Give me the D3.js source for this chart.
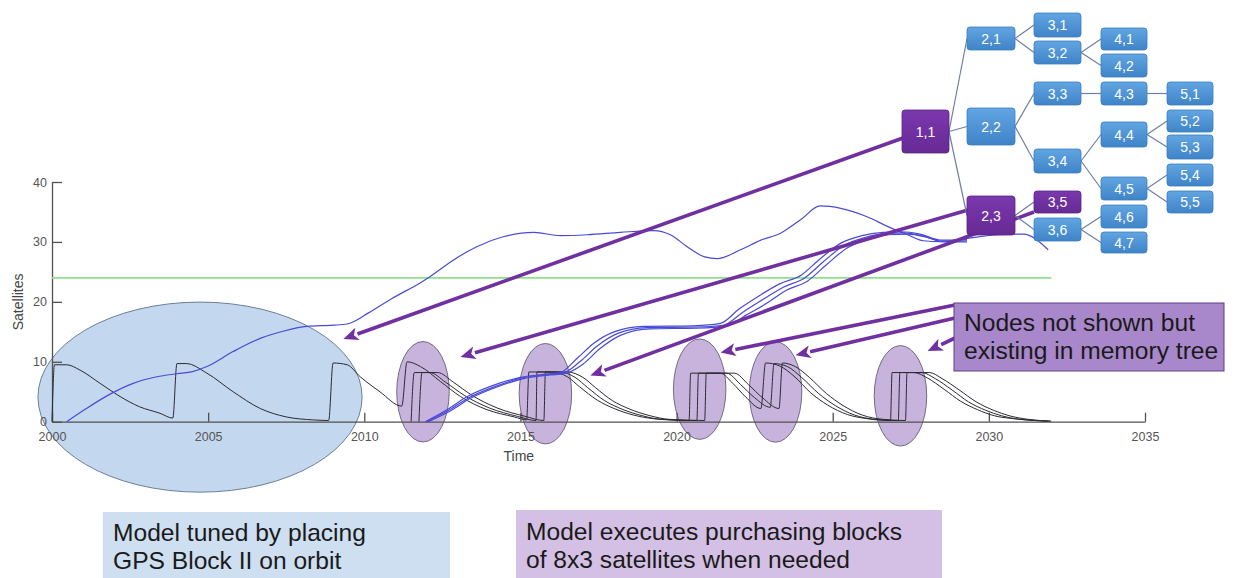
<!DOCTYPE html>
<html><head><meta charset="utf-8">
<script src="https://cdn.jsdelivr.net/npm/d3@7"></script>
<style>
body{margin:0;background:#fff;}
svg{display:block;font-family:"Liberation Sans",Arial,sans-serif;}
</style></head><body>
<svg id="c" width="1238" height="578"></svg>
<script>
// ---------------- data ----------------
const xTicks = [2000, 2005, 2010, 2015, 2020, 2025, 2030, 2035];
const yTicks = [0, 10, 20, 30, 40];
const xTitle = "Time";
const yTitle = "Satellites";
const requirementValue = 24;
const requirementYears = [2000, 2032];

// black: satellites remaining from each purchased block (three branches)
const blackA = [[2000.0,0],[2000.08,9.5],[2000.47,9.5],[2000.9,8.6],[2001.54,6.4],[2002.18,4.2],[2002.8,2.5],[2003.46,1.4],[2003.87,0.6],
 [2004.0,9.7],[2004.3,9.7],[2004.96,8.1],[2005.8,5.0],[2006.67,2.2],[2007.5,0.8],[2008.37,0.3],[2008.86,0.2],
 [2009.0,9.8],[2009.45,9.5],[2009.87,7.5],[2010.5,5.0],[2011.2,2.6],
 [2011.37,10.0],[2011.8,9.2],[2012.44,6.7],[2013.08,4.2],[2013.93,2.0],[2014.8,0.8],[2015.2,0.3],
 [2015.27,8.3],[2016.0,8.3],[2016.5,7.5],[2016.9,5.8],[2017.46,3.6],[2018.0,2.2],[2018.63,1.1],[2019.27,0.5],[2020.4,0.2],
 [2020.45,8.1],[2021.4,8.1],[2021.8,6.4],[2022.2,4.2],[2022.7,2.2],
 [2022.85,9.8],[2023.3,9.3],[2023.76,7.6],[2024.3,4.8],[2024.83,2.8],[2025.47,1.2],[2026.1,0.5],[2026.85,0.2],
 [2026.9,8.2],[2027.6,8.2],[2028.03,7.3],[2028.57,5.4],[2029.1,3.4],[2029.64,2.0],[2030.17,1.0],[2030.8,0.5],[2031.88,0.1]];
const blackB = [[2011.5,0],[2011.6,8.2],[2012.1,8.2],[2012.6,6.6],[2013.2,4.4],[2014.0,2.3],[2014.9,0.9],[2015.5,0.2],
 [2015.53,8.3],[2016.25,8.3],[2016.75,7.4],[2017.15,5.7],[2017.7,3.5],[2018.25,2.1],[2018.9,1.0],[2019.5,0.4],[2020.65,0.2],
 [2020.7,8.1],[2021.6,8.1],[2022.05,6.2],[2022.5,4.0],[2023.0,2.4],
 [2023.12,9.7],[2023.55,9.2],[2024.0,7.4],[2024.55,4.7],[2025.08,2.7],[2025.7,1.1],[2026.35,0.4],[2027.1,0.2],
 [2027.15,8.2],[2027.85,8.2],[2028.28,7.2],[2028.82,5.3],[2029.35,3.3],[2029.9,1.9],[2030.4,1.0],[2031.0,0.4],[2031.95,0.1]];
const blackC = [[2011.75,0],[2011.85,8.2],[2012.35,8.2],[2012.85,6.6],[2013.45,4.4],[2014.25,2.3],[2015.15,0.9],[2015.75,0.2],
 [2015.8,8.3],[2016.5,8.3],[2017.0,7.4],[2017.4,5.7],[2017.95,3.5],[2018.5,2.1],[2019.15,1.0],[2019.75,0.4],[2020.9,0.2],
 [2020.95,8.1],[2021.85,8.1],[2022.3,6.2],[2022.75,4.0],[2023.28,2.2],
 [2023.39,9.8],[2023.8,9.2],[2024.25,7.4],[2024.8,4.7],[2025.33,2.7],[2025.95,1.1],[2026.6,0.4],[2027.33,0.2],
 [2027.38,8.2],[2028.1,8.2],[2028.5,7.2],[2029.05,5.3],[2029.6,3.3],[2030.15,1.9],[2030.65,1.0],[2031.25,0.4],[2032.0,0.1]];

// blue: total constellation size
const blueMain = [[2000.47,0],[2001.1,2.2],[2001.86,4.6],[2002.6,6.4],[2003.36,7.5],[2004.0,8.0],[2004.5,8.35],[2004.96,9.2],
 [2005.8,11.7],[2006.67,13.9],[2007.4,15.1],[2008.16,15.9],[2009.0,16.1],[2009.45,16.3],[2010.15,18.2],[2010.9,20.6],
 [2011.8,23.2],[2012.1,24.2],[2012.86,27.0],[2013.6,29.2],[2014.47,30.9],[2015.43,31.6],[2016.28,31.05],[2017.14,31.2],
 [2018.2,31.6],[2019.27,31.9],[2019.8,31.2],[2020.34,29.2],[2020.9,27.5],[2021.3,27.2],[2022.05,28.7],[2022.7,30.3],
 [2023.33,31.45],[2023.97,33.7],[2024.6,36.0],[2025.26,35.6],[2026.1,34.2],[2026.75,32.6],[2027.4,31.2],[2027.9,30.2],
 [2028.46,30.05],[2029.3,30.6],[2030.3,31.2],[2031.1,31.3],[2031.9,28.7]];
const blueS1 = [[2011.95,0],[2012.65,2.0],[2013.3,4.2],[2014.15,6.1],[2015.0,7.4],[2015.85,7.96],[2016.28,8.2],[2016.8,10.5],
 [2017.35,13.1],[2018.0,15.0],[2018.95,15.9],[2020.55,16.0],[2021.4,16.4],[2022.0,18.8],[2022.7,21.2],[2023.3,23.0],[2024.0,24.5],
 [2024.6,27.2],[2025.26,29.8],[2025.9,31.0],[2026.6,31.6],[2027.2,31.7],[2027.8,31.3],[2028.46,30.3],[2029.3,30.4]];
const blueS2 = [[2012.0,0],[2012.7,1.9],[2013.35,4.0],[2014.2,5.9],[2015.05,7.3],[2015.9,7.9],[2016.35,8.1],[2016.9,10.0],
 [2017.45,12.6],[2018.1,14.7],[2019.05,15.7],[2020.6,15.8],[2021.5,16.1],[2022.1,18.2],[2022.8,20.5],[2023.4,22.4],[2024.1,24.0],
 [2024.7,26.7],[2025.36,29.4],[2026.0,30.7],[2026.7,31.4],[2027.3,31.5],[2027.9,31.0],[2028.5,30.1],[2029.3,30.2]];
const blueS3 = [[2012.05,0],[2012.75,1.8],[2013.4,3.9],[2014.25,5.8],[2015.1,7.2],[2015.95,7.8],[2016.4,8.0],[2017.0,9.6],
 [2017.55,12.2],[2018.2,14.4],[2019.15,15.5],[2020.65,15.6],[2021.6,15.9],[2022.2,17.7],[2022.9,19.8],[2023.5,21.9],[2024.2,23.5],
 [2024.8,26.2],[2025.46,29.0],[2026.1,30.4],[2026.8,31.2],[2027.4,31.3],[2028.0,30.8],[2028.55,30.0],[2029.3,30.0]];

// annotation anchors (data units)
const tunedPeriod = {year: 2004.74, value: 4.1};
const purchaseYears = [2011.88, 2015.8, 2020.74, 2023.17, 2027.17];
const purchaseValues = [5.0, 4.67, 5.43, 4.96, 4.32];

// decision tree
const nodeLabels = ["1,1","2,1","2,2","2,3","3,1","3,2","3,3","3,4","3,5","3,6","4,1","4,2","4,3","4,4","4,5","4,6","4,7","5,1","5,2","5,3","5,4","5,5"];
const treeEdges = [["1,1","2,1"],["1,1","2,2"],["1,1","2,3"],["2,1","3,1"],["2,1","3,2"],["3,2","4,1"],["3,2","4,2"],
 ["2,2","3,3"],["2,2","3,4"],["3,3","4,3"],["4,3","5,1"],["3,4","4,4"],["3,4","4,5"],["4,4","5,2"],["4,4","5,3"],
 ["4,5","5,4"],["4,5","5,5"],["2,3","3,5"],["2,3","3,6"],["3,6","4,6"],["3,6","4,7"]];
const selectedNodes = ["1,1","2,3","3,5"];
// arrows: node -> point on the chart (data units)
const nodeArrows = [{from:"1,1", year:2009.33, value:13.8},{from:"2,3", year:2013.08, value:10.8},{from:"3,5", year:2017.24, value:7.7}];
const memoryArrowTargets = [{year:2021.41, value:11.55},{year:2023.81, value:11.1},{year:2028.04, value:11.8}];

const noteTuned = ["Model tuned by placing","GPS Block II on orbit"];
const notePurchase = ["Model executes purchasing blocks","of 8x3 satellites when needed"];
const noteMemory = ["Nodes not shown but","existing in memory tree"];

// ---------------- layout / style ----------------
const nodeBox = {
 "1,1":[902,110,47,43],"2,1":[967,27,48,23],"2,2":[967,108,48,37],"2,3":[967,196,48,39],
 "3,1":[1034,13,47,24],"3,2":[1034,41,47,23],"3,3":[1034,82,47,23],"3,4":[1034,149,47,24],"3,5":[1034,191,47,22],"3,6":[1034,218,47,23],
 "4,1":[1101,28,46,22],"4,2":[1101,54,46,23],"4,3":[1101,82,46,23],"4,4":[1101,122,46,25],"4,5":[1101,177,46,23],"4,6":[1101,205,46,23],"4,7":[1101,232,46,21],
 "5,1":[1167,82,46,23],"5,2":[1167,110,46,22],"5,3":[1167,135,46,24],"5,4":[1167,164,46,22],"5,5":[1167,191,46,22]};
const arrowStart = {"1,1":[903,138],"2,3":[968,210],"3,5":[1034,212]};
const memoryStarts = [[955,305],[955,318],[955,338]];

const svg = d3.select("#c");
const x = d3.scaleLinear().domain([2000,2035]).range([52,1145]);
const y = d3.scaleLinear().domain([0,40]).range([421.7,182]);
const PURPLE = "#7030a0";

const defs = svg.append("defs");
const gb = defs.append("linearGradient").attr("id","gb").attr("x1",0).attr("y1",0).attr("x2",0).attr("y2",1);
gb.append("stop").attr("offset","0").attr("stop-color","#62a5e2");
gb.append("stop").attr("offset","1").attr("stop-color","#3f84c8");
const gp = defs.append("linearGradient").attr("id","gp").attr("x1",0).attr("y1",0).attr("x2",0).attr("y2",1);
gp.append("stop").attr("offset","0").attr("stop-color","#7a38ad");
gp.append("stop").attr("offset","1").attr("stop-color","#672a95");

// ellipses (behind)
svg.append("ellipse").attr("cx",x(tunedPeriod.year)).attr("cy",y(tunedPeriod.value))
 .attr("rx",x(2005.19)-x(2000)).attr("ry",y(0)-y(15.86))
 .attr("fill","#c3d7ee").attr("stroke","#6d7f98").attr("stroke-width",1);
svg.selectAll(".pe").data(purchaseYears).join("ellipse")
 .attr("cx",d=>x(d)).attr("cy",(d,i)=>y(purchaseValues[i]))
 .attr("rx",x(2000.84)-x(2000)).attr("ry",y(0)-y(8.38))
 .attr("fill","#c8b3dc").attr("stroke","#6f6a86").attr("stroke-width",1);

// axes
const axisColor = "#505050";
const gx = svg.append("g").attr("transform",`translate(0,${y(0)})`)
 .call(d3.axisBottom(x).tickValues(xTicks).tickFormat(d3.format("d")).tickSizeInner(-9).tickSizeOuter(0).tickPadding(8));
const gy = svg.append("g").attr("transform",`translate(${x(2000)},0)`)
 .call(d3.axisLeft(y).tickValues(yTicks).tickSizeInner(-10).tickSizeOuter(0).tickPadding(5));
[gx,gy].forEach(g=>{
 g.selectAll("path,line").attr("stroke",axisColor).attr("stroke-width",1.3);
 g.selectAll("text").attr("fill","#555").attr("font-size",12.5).attr("font-family","Liberation Sans, Arial, sans-serif");
});
gx.selectAll("text").attr("dy","0.9em");
svg.append("text").attr("x",x(2014.95)).attr("y",461).attr("text-anchor","middle")
 .attr("fill","#444").attr("font-size",14).text(xTitle);
svg.append("text").attr("transform",`translate(23,${y(20)}) rotate(-90)`).attr("text-anchor","middle")
 .attr("fill","#444").attr("font-size",14).text(yTitle);

// requirement line
svg.append("line").attr("x1",x(requirementYears[0])).attr("x2",x(requirementYears[1]))
 .attr("y1",y(requirementValue)).attr("y2",y(requirementValue))
 .attr("stroke","#8fe08a").attr("stroke-width",1.6);

const line = d3.line().x(d=>x(d[0])).y(d=>y(d[1])).curve(d3.curveMonotoneX);
[blackA,blackB,blackC].forEach(s=>svg.append("path").attr("d",line(s)).attr("fill","none").attr("stroke","#2b2b33").attr("stroke-width",1));
[blueS1,blueS2,blueS3,blueMain].forEach(s=>svg.append("path").attr("d",line(s)).attr("fill","none").attr("stroke","#4a4ad8").attr("stroke-width",1.2));

// arrows
function arrow(x1,y1,x2,y2){
 const a = Math.atan2(y2-y1,x2-x1), L=15, W=6.5;
 const bx = x2-L*Math.cos(a), by = y2-L*Math.sin(a);
 svg.append("line").attr("x1",x1).attr("y1",y1).attr("x2",bx).attr("y2",by)
  .attr("stroke",PURPLE).attr("stroke-width",3.6);
 const px=-Math.sin(a), py=Math.cos(a);
 svg.append("path").attr("d",`M${x2},${y2}L${bx+px*W},${by+py*W}L${bx+L*0.25*Math.cos(a)},${by+L*0.25*Math.sin(a)}L${bx-px*W},${by-py*W}Z`)
  .attr("fill",PURPLE);
}
nodeArrows.forEach(a=>{const s=arrowStart[a.from]; arrow(s[0],s[1],x(a.year),y(a.value));});
memoryArrowTargets.forEach((t,i)=>arrow(memoryStarts[i][0],memoryStarts[i][1],x(t.year),y(t.value)));

// tree
const tg = svg.append("g");
treeEdges.forEach(([p,c])=>{
 const a=nodeBox[p], b=nodeBox[c];
 tg.append("line").attr("x1",a[0]+a[2]).attr("y1",a[1]+a[3]/2).attr("x2",b[0]).attr("y2",b[1]+b[3]/2)
  .attr("stroke","#6e7fa6").attr("stroke-width",1.2);
});
nodeLabels.forEach(n=>{
 const b=nodeBox[n], sel=selectedNodes.includes(n);
 tg.append("rect").attr("x",b[0]).attr("y",b[1]).attr("width",b[2]).attr("height",b[3]).attr("rx",3)
  .attr("fill",sel?"url(#gp)":"url(#gb)").attr("stroke",sel?"#5a2385":"#3b7dc0").attr("stroke-width",0.8);
 tg.append("text").attr("x",b[0]+b[2]/2).attr("y",b[1]+b[3]/2).attr("dy","0.36em").attr("text-anchor","middle")
  .attr("fill","#fff").attr("font-size",14).text(n);
});

// notes
function note(rx,ry,w,h,fill,stroke,lines,tx,ty,fs,lh){
 svg.append("rect").attr("x",rx).attr("y",ry).attr("width",w).attr("height",h).attr("fill",fill)
  .attr("stroke",stroke||"none").attr("stroke-width",1);
 lines.forEach((t,i)=>svg.append("text").attr("x",tx).attr("y",ty+i*lh).attr("fill","#1a1a1a").attr("font-size",fs).text(t));
}
note(954,303,270,68,"#a887cb","#5e3d8c",noteMemory,964,331,24.6,28);
note(103,512,347,66,"#cddff0",null,noteTuned,113,541,24.6,28);
note(516,510,426,68,"#d3c0e4",null,notePurchase,526,540,24.6,28);
</script></body></html>
